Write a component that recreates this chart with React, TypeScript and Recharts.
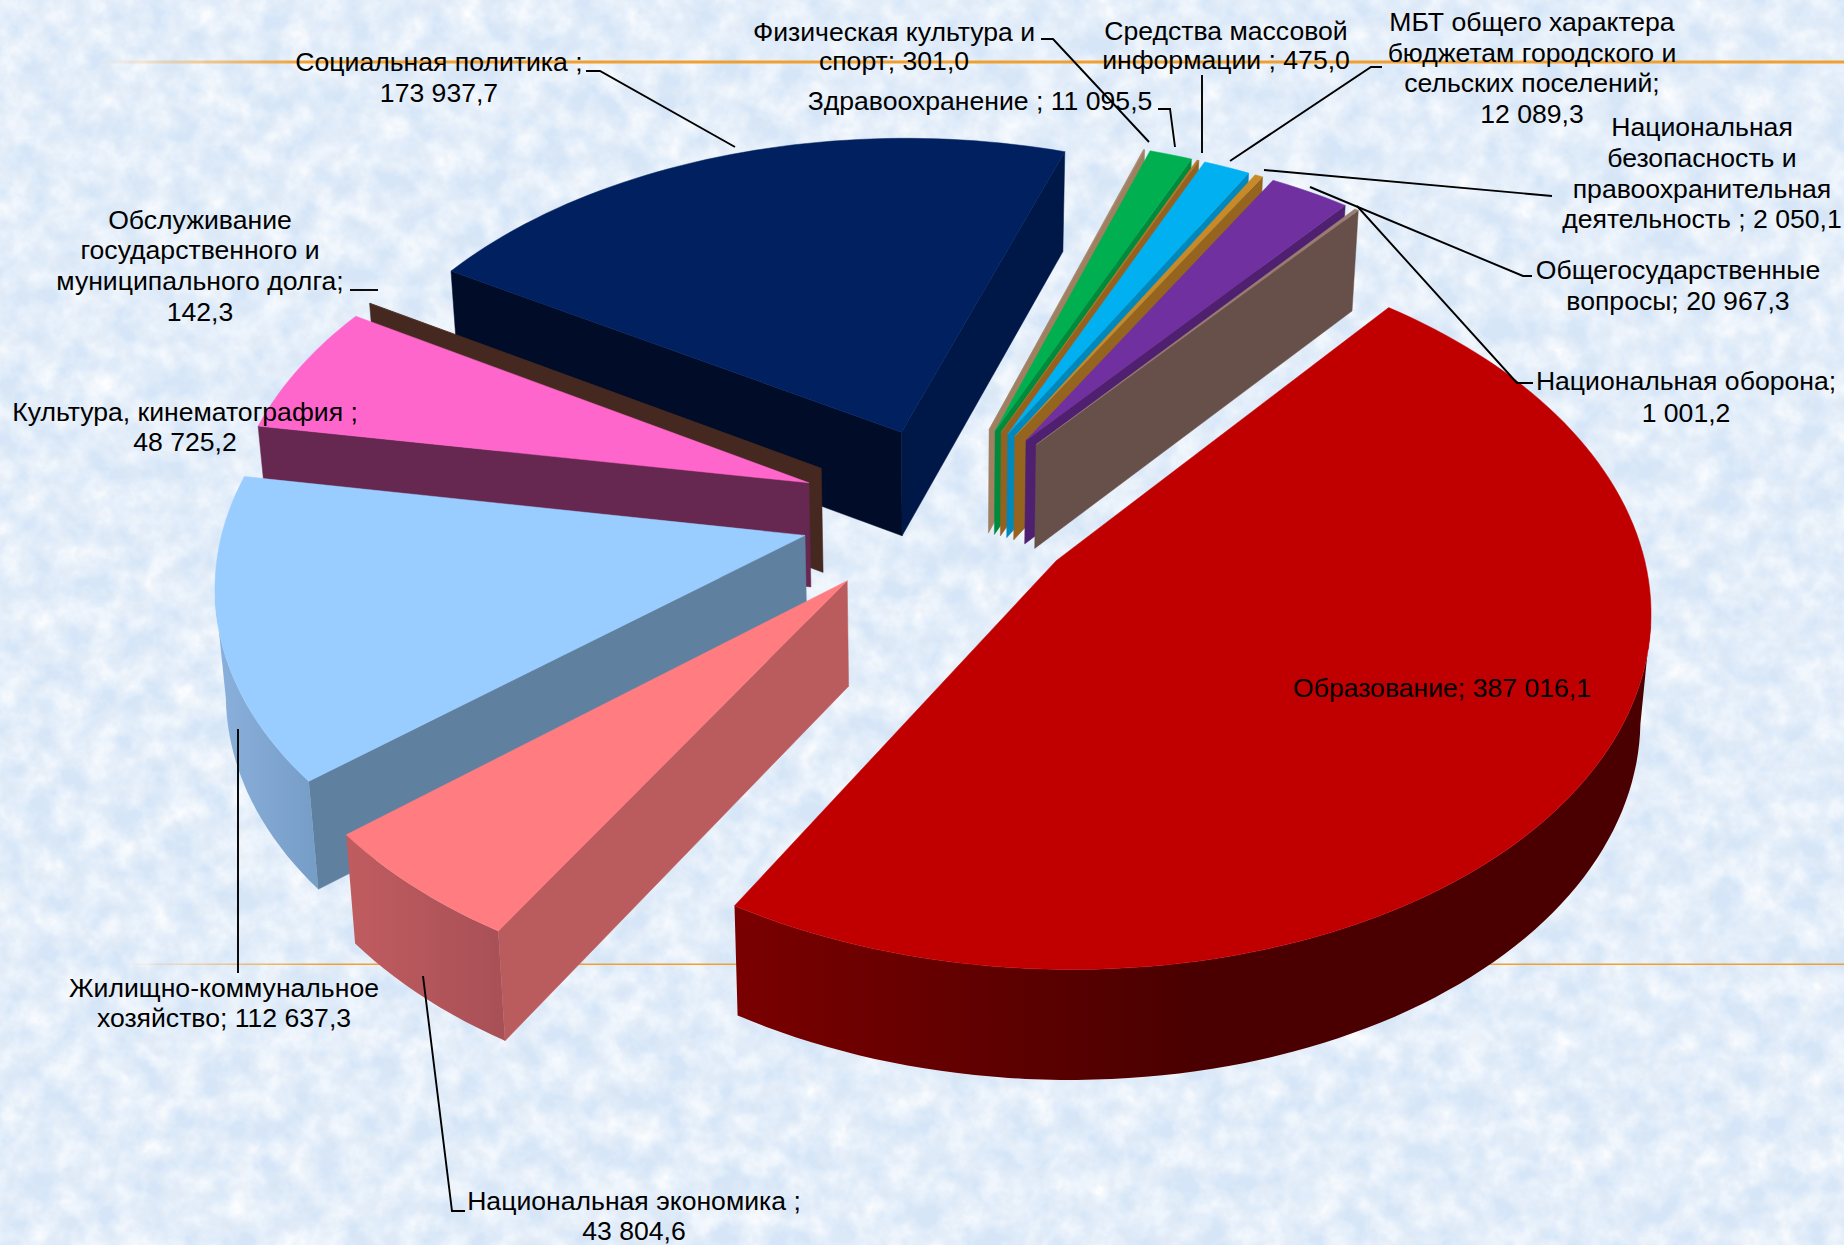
import React from "react";
import { PieChart, Pie } from "recharts";

// Расходы бюджета по разделам, тыс. руб. — exploded 3D pie
const leftNames = [
  "Социальная политика",
  "Обслуживание долга",
  "Культура",
  "ЖКХ",
  "Национальная экономика",
];
const leftValues = [173937.7, 142.3, 48725.2, 112637.3, 43804.6];

const rightNames = [
  "Физическая культура",
  "Здравоохранение",
  "СМИ",
  "МБТ",
  "Нацбезопасность",
  "Общегосударственные",
  "Национальная оборона",
  "Образование",
];
const rightValues = [301.0, 11095.5, 475.0, 12089.3, 2050.1, 20967.3, 1001.2, 387016.1];

const leftData = leftNames.map((name, i) => ({ name, value: leftValues[i] }));
const rightData = rightNames.map((name, i) => ({ name, value: rightValues[i] }));

const sum = (a: number[]) => a.reduce((x, y) => x + y, 0);
const TOTAL = sum(leftValues) + sum(rightValues);
const SEAM = 71.7;

// top, start face, end face, rim gradient stops (left to right), explosion
const SKIN: Record<string, { top: string; start: string; end: string; rim: string[]; out: number; turn?: number }> = {
  "Социальная политика": { top: "#002060", start: "#000C28", end: "#001848", rim: ["#001848"], out: 0.25, turn: -3 },
  "Обслуживание долга": { top: "#4A2C20", start: "#452920", end: "#452920", rim: ["#452920"], out: 0.25 },
  "Культура": { top: "#FF66CC", start: "#662850", end: "#662850", rim: ["#662850"], out: 0.25 },
  "ЖКХ": { top: "#99CCFF", start: "#60809F", end: "#60809F", rim: ["#8AB0DC", "#769DC6"], out: 0.245 },
  "Национальная экономика": { top: "#FF7C80", start: "#BA5C5E", end: "#BA5C5E", rim: ["#C05C60", "#A85056"], out: 0.25 },
  "Физическая культура": { top: "#A5876A", start: "#A08060", end: "#A08060", rim: ["#A08060"], out: 0.26 },
  "Здравоохранение": { top: "#00B050", start: "#008A3E", end: "#008A3E", rim: ["#008A3E"], out: 0.26 },
  "СМИ": { top: "#B8782A", start: "#96601E", end: "#96601E", rim: ["#96601E"], out: 0.26 },
  "МБТ": { top: "#00B0F0", start: "#0088BC", end: "#0088BC", rim: ["#0088BC"], out: 0.26 },
  "Нацбезопасность": { top: "#C88A28", start: "#956520", end: "#956520", rim: ["#956520"], out: 0.26 },
  "Общегосударственные": { top: "#7030A0", start: "#4F2070", end: "#4F2070", rim: ["#4F2070"], out: 0.26 },
  "Национальная оборона": { top: "#9A7D70", start: "#67504A", end: "#67504A", rim: ["#67504A"], out: 0.26 },
  "Образование": { top: "#C00000", start: "#7A0000", end: "#7A0000", rim: ["#7A0000", "#4A0000", "#4A0000"], out: 0.235 },
};

const TILT = 0.6;
const PERSP = 0.12;
const DROP = 0.1805;
const LEAN = 0.015;

function Slice3D(props: any) {
  const { cx, cy, outerRadius: R, startAngle, endAngle, payload } = props;
  const skin = SKIN[payload.name];
  const hi = Math.max(startAngle, endAngle);
  const lo = Math.min(startAngle, endAngle);
  const mid = (((hi + lo) / 2 + (skin.turn ?? 0)) * Math.PI) / 180;
  const ox = skin.out * Math.cos(mid);
  const oy = skin.out * Math.sin(mid);

  const project = (X: number, Y: number) => {
    const s = 1 / (1 + PERSP * Y);
    return { x: cx + R * X * s, y: cy - R * TILT * Y * s, s };
  };
  const down = (p: { x: number; y: number; s: number }) => ({
    x: p.x + (cx - p.x) * LEAN,
    y: p.y + R * DROP * (0.64 + 0.36 * p.s),
    s: p.s,
  });
  const str = (pts: { x: number; y: number }[]) =>
    pts.map((p) => `${p.x.toFixed(1)},${p.y.toFixed(1)}`).join(" ");

  const apex = project(ox, oy);
  const arc = [];
  const steps = Math.max(1, Math.ceil((hi - lo) / 1.5));
  for (let i = 0; i <= steps; i++) {
    const a = ((hi - ((hi - lo) * i) / steps) * Math.PI) / 180;
    arc.push(project(ox + Math.cos(a), oy + Math.sin(a)));
  }
  const first = arc[0];
  const last = arc[arc.length - 1];

  // clockwise walk: a wall shows only where x falls
  const wall = (a: any, b: any) => [a, b, down(b), down(a)];
  const run = [];
  for (let i = 0; i < arc.length - 1; i++) {
    if (arc[i + 1].x < arc[i].x) {
      if (!run.length) run.push(arc[i]);
      run.push(arc[i + 1]);
    }
  }
  const gradId = `rim-${payload.name.replace(/\s/g, "-")}`;

  return (
    <g>
      {skin.rim.length > 1 && (
        <defs>
          <linearGradient id={gradId} x1="0" y1="0" x2="1" y2="0">
            {skin.rim.map((c, i) => (
              <stop key={i} offset={i / (skin.rim.length - 1)} stopColor={c} />
            ))}
          </linearGradient>
        </defs>
      )}
      {first.x < apex.x && (
        <polygon points={str(wall(apex, first))} fill={skin.start} stroke={skin.start} strokeWidth={0.5} />
      )}
      {apex.x < last.x && (
        <polygon points={str(wall(last, apex))} fill={skin.end} stroke={skin.end} strokeWidth={0.5} />
      )}
      {run.length > 1 && (
        <polygon
          points={str([...run, ...[...run].reverse().map(down)])}
          fill={skin.rim.length > 1 ? `url(#${gradId})` : skin.rim[0]}
        />
      )}
      <polygon points={str([apex, ...arc])} fill={skin.top} stroke={skin.top} strokeWidth={0.5} />
    </g>
  );
}

type Note = { x: number; ys: number[]; lines: string[]; leader?: number[][] };

const NOTES: Record<string, Note> = {
  "Социальная политика": {
    x: 439, ys: [62, 93], lines: ["Социальная политика ;", "173 937,7"],
    leader: [[586, 71], [600, 71], [735, 147]],
  },
  "Физическая культура": {
    x: 894, ys: [32, 61], lines: ["Физическая культура и", "спорт; 301,0"],
    leader: [[1041, 39], [1053, 39], [1149, 142]],
  },
  "Здравоохранение": {
    x: 980, ys: [101], lines: ["Здравоохранение ; 11 095,5"],
    leader: [[1158, 109], [1170, 109], [1175, 147]],
  },
  "СМИ": {
    x: 1226, ys: [31, 60], lines: ["Средства массовой", "информации ; 475,0"],
    leader: [[1202, 75], [1202, 153]],
  },
  "МБТ": {
    x: 1532, ys: [22, 53, 83, 114],
    lines: ["МБТ общего характера", "бюджетам городского и", "сельских поселений;", "12 089,3"],
    leader: [[1382, 67], [1371, 67], [1230, 161]],
  },
  "Нацбезопасность": {
    x: 1702, ys: [127, 158, 189, 219],
    lines: ["Национальная", "безопасность и", "правоохранительная", "деятельность ; 2 050,1"],
    leader: [[1264, 170], [1552, 196]],
  },
  "Общегосударственные": {
    x: 1678, ys: [270, 301], lines: ["Общегосударственные", "вопросы; 20 967,3"],
    leader: [[1310, 187], [1523, 276], [1532, 276]],
  },
  "Национальная оборона": {
    x: 1686, ys: [381, 413], lines: ["Национальная оборона;", "1 001,2"],
    leader: [[1357, 206], [1517, 383], [1533, 383]],
  },
  "Образование": { x: 1442, ys: [688], lines: ["Образование; 387 016,1"] },
  "Национальная экономика": {
    x: 634, ys: [1201, 1231], lines: ["Национальная экономика ;", "43 804,6"],
    leader: [[423, 976], [452, 1211], [465, 1211]],
  },
  "ЖКХ": {
    x: 224, ys: [988, 1018], lines: ["Жилищно-коммунальное", "хозяйство; 112 637,3"],
    leader: [[238, 729], [238, 973]],
  },
  "Культура": { x: 185, ys: [412, 442], lines: ["Культура, кинематография ;", "48 725,2"] },
  "Обслуживание долга": {
    x: 200, ys: [220, 250, 281, 312],
    lines: ["Обслуживание", "государственного и", "муниципального долга;", "142,3"],
    leader: [[350, 290], [378, 290]],
  },
};

function SliceLabel(props: any) {
  const note = NOTES[props.payload?.name ?? props.name];
  if (!note) return null;
  return (
    <g>
      {note.leader && (
        <polyline
          points={note.leader.map((p) => p.join(",")).join(" ")}
          fill="none"
          stroke="#000"
          strokeWidth={1.9}
        />
      )}
      {note.lines.map((line, i) => (
        <text
          key={i}
          x={note.x}
          y={note.ys[i]}
          textAnchor="middle"
          dominantBaseline="central"
          fontFamily="'Liberation Sans', Arial, sans-serif"
          fontSize={26.6}
          fill="#000"
        >
          {line}
        </text>
      ))}
    </g>
  );
}

function Backdrop() {
  return (
    <svg width={1844} height={1245} style={{ position: "absolute", left: 0, top: 0 }}>
      <defs>
        <filter id="paperLight" x="0" y="0" width="100%" height="100%">
          <feTurbulence type="fractalNoise" baseFrequency="0.035" numOctaves={4} seed={7} />
          <feColorMatrix
            type="matrix"
            values="0 0 0 0 1  0 0 0 0 1  0 0 0 0 1  1.5 0 0 0 -0.4"
          />
        </filter>
        <filter id="paperDark" x="0" y="0" width="100%" height="100%">
          <feTurbulence type="fractalNoise" baseFrequency="0.06" numOctaves={3} seed={21} />
          <feColorMatrix
            type="matrix"
            values="0 0 0 0 0.71  0 0 0 0 0.79  0 0 0 0 0.89  0 1.3 0 0 -0.55"
          />
        </filter>
        <linearGradient id="fadeLine" x1="0" y1="0" x2="1" y2="0">
          <stop offset="0" stopColor="#F0A030" stopOpacity={0} />
          <stop offset="0.12" stopColor="#F0A030" />
          <stop offset="1" stopColor="#F0A030" />
        </linearGradient>
      </defs>
      <rect width={1844} height={1245} fill="#D6E6F8" />
      <rect width={1844} height={1245} filter="url(#paperLight)" />
      <rect width={1844} height={1245} filter="url(#paperDark)" />
      <rect x={100} y={60.5} width={1744} height={3} fill="url(#fadeLine)" />
      <rect x={120} y={963.5} width={1724} height={1.5} fill="url(#fadeLine)" />
    </svg>
  );
}

export default function App() {
  return (
    <div style={{ position: "absolute", left: 0, top: 0, width: 1844, height: 1245, overflow: "hidden" }}>
      <Backdrop />
      <div style={{ position: "absolute", left: 0, top: 0 }}>
        <PieChart width={1844} height={1245} margin={{ top: 0, right: 0, bottom: 0, left: 0 }}>
          <Pie
            data={leftData}
            dataKey="value"
            nameKey="name"
            cx={943}
            cy={513}
            outerRadius={579}
            startAngle={SEAM}
            endAngle={SEAM + (sum(leftValues) / TOTAL) * 360}
            shape={Slice3D}
            label={SliceLabel}
            labelLine={false}
            stroke="none"
            isAnimationActive={false}
          />
          <Pie
            data={rightData}
            dataKey="value"
            nameKey="name"
            cx={943}
            cy={513}
            outerRadius={579}
            startAngle={SEAM}
            endAngle={SEAM - (sum(rightValues) / TOTAL) * 360}
            shape={Slice3D}
            label={SliceLabel}
            labelLine={false}
            stroke="none"
            isAnimationActive={false}
          />
        </PieChart>
      </div>
    </div>
  );
}
